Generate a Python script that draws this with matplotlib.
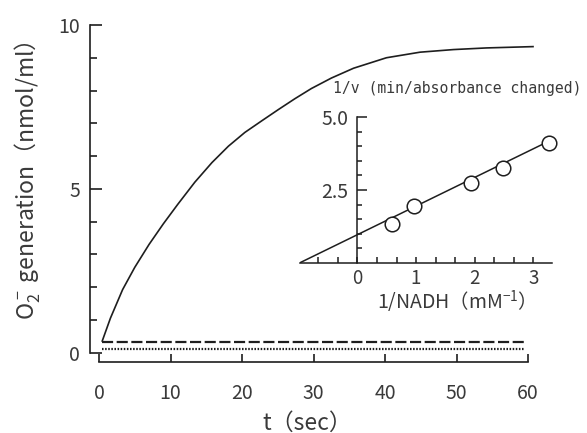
import matplotlib
matplotlib.use("Agg")
import matplotlib.pyplot as plt
import numpy as np
from matplotlib.ticker import MultipleLocator, FixedLocator

plt.rcParams['font.family'] = ['Noto Sans CJK JP', 'DejaVu Sans']
plt.rcParams['mathtext.fontset'] = 'custom'
plt.rcParams['mathtext.rm'] = 'Noto Sans CJK JP'
plt.rcParams['mathtext.it'] = 'Noto Sans CJK JP'
plt.rcParams['mathtext.bf'] = 'Noto Sans CJK JP'

# --- superoxide generation time course ---
t_sec = [0.45, 1.6, 3.3, 5.0, 7.0, 9.0, 11.0, 13.4, 15.8, 18.1, 20.4, 22.8,
         25.1, 27.4, 29.7, 32.5, 35.6, 40.2, 44.9, 49.6, 54.2, 60.7]
o2_gen = [0.35, 1.05, 1.92, 2.60, 3.30, 3.93, 4.52, 5.20, 5.80, 6.30, 6.72,
          7.08, 7.42, 7.75, 8.06, 8.38, 8.68, 9.00, 9.17, 9.25, 9.30, 9.34]

# control traces (flat)
t_ctrl = [0.4, 59.6]
ctrl_dashed = [0.33, 0.33]
ctrl_dotted = [0.11, 0.11]

# --- double-reciprocal (Lineweaver-Burk) inset ---
inv_nadh = [0.59, 0.96, 1.93, 2.48, 3.27]
inv_v = [1.34, 1.96, 2.73, 3.24, 4.12]
fit_intercept = 0.97
fit_slope = 0.98

x_ticks_main = [0, 10, 20, 30, 40, 50, 60]
y_ticks_main = [0, 5, 10]
x_ticks_inset = [0, 1, 2, 3]
y_ticks_inset = [2.5, 5.0]
y_ticklabels_inset = ["2.5", "5.0"]

W, H = 587, 433
LINE = '#1e1e1e'
TEXT = '#3a3a3a'

fig = plt.figure(figsize=(W / 100, H / 100), dpi=100)


def px(x, y):
    return x / W, 1 - y / H


# main axes: spine pixels x 90..528, y 362..25
ax = fig.add_axes([90 / W, (H - 362) / H, 438 / W, 337 / H])
ax.set_xlim(-1.26, 60)
ax.set_ylim(-0.29, 10)

ax.plot(t_sec, o2_gen, color=LINE, lw=1.2, clip_on=False, zorder=3)
ax.plot(t_ctrl, ctrl_dashed, color=LINE, lw=1.6, dashes=(5, 1.6))
ax.plot(t_ctrl, ctrl_dotted, color=LINE, lw=1.6, dashes=(0.7, 0.7))

for s in ('top', 'right'):
    ax.spines[s].set_visible(False)
for s in ('left', 'bottom'):
    ax.spines[s].set_color(LINE)
    ax.spines[s].set_linewidth(1.2)
ax.spines['left'].set_bounds(0, 10)
ax.spines['bottom'].set_bounds(0, 60)

ax.set_xticks(x_ticks_main)
ax.set_yticks(y_ticks_main)
ax.yaxis.set_minor_locator(MultipleLocator(1))
ax.tick_params(axis='y', which='major', direction='in', length=8.5, width=1.2,
               color=LINE, labelsize=14, labelcolor=TEXT, pad=7)
ax.tick_params(axis='y', which='minor', direction='in', length=5, width=1.2,
               color=LINE)
ax.tick_params(axis='x', which='major', direction='in', length=5.5, width=1.2,
               color=LINE, labelsize=14, labelcolor=TEXT, pad=15)

fig.text(*px(307, 423), "t（sec）", ha='center', va='center', fontsize=16.5,
         color=TEXT)
fig.text(*px(28, 181), r"O$_2^-$ generation（nmol/ml）", ha='center',
         va='center', rotation=90, fontsize=16.5, color=TEXT)

# inset axes: x 300..552, y 117..263
ins = fig.add_axes([300 / W, (H - 263) / H, 252 / W, 146 / H])
ins.patch.set_alpha(0)
ins.set_xlim(-0.98, 3.32)
ins.set_ylim(0, 5.0)

x_fit = np.array([-fit_intercept / fit_slope, inv_nadh[-1]])
ins.plot(x_fit, fit_intercept + fit_slope * x_fit, color=LINE, lw=1.1,
         zorder=2)
ins.plot(inv_nadh, inv_v, 'o', ms=10.5, mfc='white', mec=LINE, mew=1.1,
         zorder=3, clip_on=False)

for s in ('top', 'right'):
    ins.spines[s].set_visible(False)
ins.spines['left'].set_position(('data', 0))
for s in ('left', 'bottom'):
    ins.spines[s].set_color(LINE)
    ins.spines[s].set_linewidth(1.1)

ins.set_xticks(x_ticks_inset)
ins.xaxis.set_minor_locator(FixedLocator(
    [v / 3 for v in range(-2, 10) if v % 3 != 0]))
ins.set_yticks(y_ticks_inset)
ins.set_yticklabels(y_ticklabels_inset)
ins.yaxis.set_minor_locator(FixedLocator([0.5, 1.0, 1.5, 2.0, 3.0, 3.5, 4.0, 4.5]))
ins.tick_params(axis='y', which='major', direction='in', length=7, width=1.1,
                color=LINE, labelsize=14, labelcolor=TEXT, pad=6.5)
ins.tick_params(axis='y', which='minor', direction='in', length=3.6, width=1.1,
                color=LINE)
ins.tick_params(axis='x', which='both', direction='in', length=4.3, width=1.1,
                color=LINE, labelsize=13.5, labelcolor=TEXT, pad=3.5)

fig.text(*px(333, 88), "1/v (min/absorbance changed)", ha='left',
         va='center', fontsize=10.6, color=TEXT, family='DejaVu Sans Mono')
fig.text(*px(451, 302), r"1/NADH（mM$^{-1}$）", ha='center', va='center',
         fontsize=14, color=TEXT)

fig.savefig("out.png", dpi=100, facecolor='white')
